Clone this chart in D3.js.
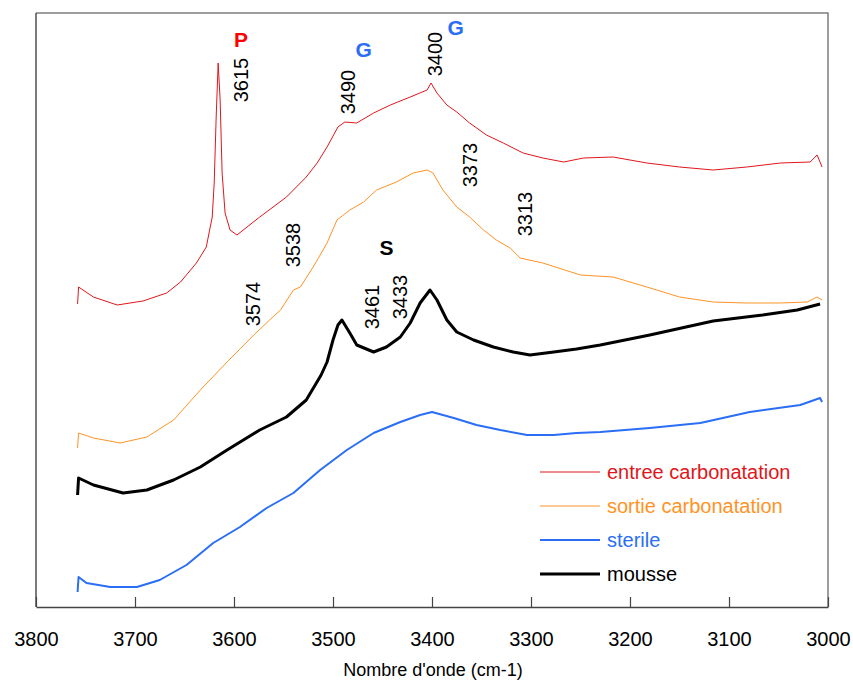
<!DOCTYPE html>
<html>
<head>
<meta charset="utf-8">
<script src="https://cdn.jsdelivr.net/npm/d3@7"></script>
<style>
  body { margin: 0; background: #fff; }
  svg { display: block; font-family: "Liberation Sans", Arial, sans-serif; }
</style>
</head>
<body>
<svg id="chart"></svg>
<script>
// wavenumber (cm-1), intensity (a.u.)
const entree = [
  [3758, 0.303], [3757, 0.320], [3742, 0.310], [3718, 0.302], [3692, 0.306],
  [3668, 0.314], [3654, 0.325], [3638, 0.344], [3628, 0.360], [3622, 0.390],
  [3620, 0.424], [3618, 0.490], [3616, 0.544], [3614, 0.507], [3612, 0.434],
  [3609, 0.394], [3604, 0.377], [3597, 0.372], [3574, 0.390], [3547, 0.410],
  [3527, 0.430], [3516, 0.444], [3506, 0.460], [3495, 0.480], [3488, 0.485],
  [3476, 0.484], [3459, 0.494], [3442, 0.502], [3422, 0.510], [3405, 0.517],
  [3401, 0.524], [3395, 0.514], [3385, 0.502], [3375, 0.495], [3362, 0.484],
  [3345, 0.472], [3328, 0.464], [3308, 0.454], [3288, 0.449], [3267, 0.445],
  [3247, 0.449], [3217, 0.450], [3183, 0.444], [3150, 0.440], [3116, 0.437],
  [3082, 0.440], [3048, 0.444], [3018, 0.445], [3011, 0.452], [3006, 0.440]
];
const sortie = [
  [3758, 0.159], [3757, 0.174], [3742, 0.169], [3715, 0.164], [3688, 0.170],
  [3661, 0.187], [3634, 0.217], [3607, 0.245], [3580, 0.272], [3564, 0.287],
  [3553, 0.297], [3540, 0.317], [3533, 0.320], [3520, 0.340], [3506, 0.364],
  [3496, 0.387], [3483, 0.397], [3469, 0.405], [3456, 0.417], [3436, 0.425],
  [3419, 0.434], [3405, 0.437], [3399, 0.434], [3389, 0.417], [3375, 0.400],
  [3362, 0.390], [3348, 0.377], [3335, 0.367], [3321, 0.359], [3311, 0.349],
  [3288, 0.344], [3250, 0.332], [3217, 0.330], [3183, 0.320], [3150, 0.310],
  [3116, 0.305], [3082, 0.304], [3048, 0.304], [3021, 0.305], [3011, 0.310],
  [3006, 0.307]
];
const sterile = [
  [3758, 0.015], [3757, 0.030], [3749, 0.024], [3725, 0.020], [3698, 0.020],
  [3675, 0.027], [3648, 0.042], [3621, 0.064], [3594, 0.080], [3567, 0.099],
  [3540, 0.114], [3513, 0.137], [3486, 0.157], [3459, 0.174], [3432, 0.185],
  [3412, 0.192], [3400, 0.195], [3378, 0.189], [3355, 0.182], [3331, 0.177],
  [3304, 0.172], [3277, 0.172], [3254, 0.174], [3230, 0.175], [3180, 0.179],
  [3129, 0.184], [3079, 0.195], [3028, 0.202], [3008, 0.209], [3006, 0.205]
];
const mousse = [
  [3758, 0.112], [3757, 0.129], [3742, 0.122], [3712, 0.114], [3688, 0.117],
  [3661, 0.127], [3634, 0.140], [3607, 0.157], [3574, 0.177], [3547, 0.190],
  [3527, 0.207], [3512, 0.232], [3506, 0.245], [3500, 0.267], [3495, 0.282],
  [3491, 0.287], [3483, 0.274], [3476, 0.262], [3459, 0.255], [3446, 0.260],
  [3432, 0.270], [3422, 0.284], [3412, 0.304], [3402, 0.317], [3395, 0.307],
  [3385, 0.287], [3375, 0.275], [3358, 0.267], [3338, 0.260], [3318, 0.255],
  [3301, 0.252], [3277, 0.255], [3254, 0.258], [3230, 0.262], [3180, 0.272],
  [3116, 0.286], [3066, 0.292], [3031, 0.297], [3008, 0.303]
];

const seriesNames = ["entree carbonatation", "sortie carbonatation", "sterile", "mousse"];
const seriesColors = ["#e0161b", "#ff9326", "#2a6ef5", "#000000"];
const seriesWidths = [1, 1, 2, 3];

const xTicks = [3800, 3700, 3600, 3500, 3400, 3300, 3200, 3100, 3000];

// band labels: text, baseline position (cm-1), centre (a.u.)
const bandLabels = [
  ["3615", 3586, 0.527], ["3490", 3478, 0.515], ["3400", 3390, 0.553],
  ["3373", 3355, 0.442], ["3538", 3533, 0.362], ["3313", 3299, 0.393],
  ["3574", 3574, 0.303], ["3461", 3454, 0.300], ["3433", 3425, 0.310]
];
// group letters: letter, colour, x (cm-1), y (a.u.)
const groupLetters = [
  ["P", "#ff0000", 3593, 0.560], ["G", "#2a6ef5", 3469, 0.550],
  ["G", "#2a6ef5", 3376, 0.572], ["S", "#000000", 3446, 0.352]
];

function main() {
  const width = 853, height = 682;
  const svg = d3.select("#chart").attr("width", width).attr("height", height);

  const x = d3.scaleLinear().domain([3800, 3000]).range([36, 828]);
  const y = d3.scaleLinear().domain([0, 0.594]).range([607, 13]);

  drawFrame(svg, x, y);
  drawSeries(svg, x, y);
  drawLabels(svg, x, y);
  drawLegend(svg);
}

function drawFrame(svg, x, y) {
  svg.append("path")
    .attr("d", `M${x(3800)},${y(0.594)}H${x(3000)}V${y(0)}`)
    .attr("fill", "none")
    .attr("stroke", "#7f7f7f")
    .attr("stroke-width", 1.5);

  svg.append("line")
    .attr("x1", x(3800)).attr("x2", x(3800))
    .attr("y1", y(0.594)).attr("y2", y(0))
    .attr("stroke", "#333")
    .attr("stroke-width", 1.3);

  const axis = svg.append("g")
    .attr("transform", `translate(0,${y(0)})`)
    .call(d3.axisBottom(x).tickValues(xTicks).tickFormat(d3.format("d"))
      .tickSizeInner(-10).tickSizeOuter(0).tickPadding(25));
  axis.select(".domain").attr("stroke", "#444").attr("stroke-width", 1.3);
  axis.selectAll(".tick line").attr("stroke", "#444").attr("stroke-width", 1.2);
  axis.selectAll(".tick text")
    .attr("font-size", 20)
    .attr("font-family", "Liberation Sans, Arial, sans-serif")
    .attr("fill", "#000");

  svg.append("text")
    .attr("x", 433)
    .attr("y", 676)
    .attr("text-anchor", "middle")
    .attr("font-size", 18)
    .text("Nombre d'onde (cm-1)");
}

function drawSeries(svg, x, y) {
  const line = d3.line().x(d => x(d[0])).y(d => y(d[1]));
  const data = [entree, sortie, sterile, mousse];
  svg.append("g")
    .attr("fill", "none")
    .attr("stroke-linejoin", "round")
    .selectAll("path")
    .data(data)
    .join("path")
    .attr("stroke", (d, i) => seriesColors[i])
    .attr("stroke-width", (d, i) => seriesWidths[i])
    .attr("d", line);
}

function drawLabels(svg, x, y) {
  svg.append("g")
    .selectAll("text")
    .data(bandLabels)
    .join("text")
    .attr("transform", d => `translate(${x(d[1])},${y(d[2])}) rotate(-90)`)
    .attr("text-anchor", "middle")
    .attr("font-size", 20)
    .text(d => d[0]);

  svg.append("g")
    .selectAll("text")
    .data(groupLetters)
    .join("text")
    .attr("x", d => x(d[2]))
    .attr("y", d => y(d[3]))
    .attr("text-anchor", "middle")
    .attr("font-size", 21)
    .attr("font-weight", "bold")
    .attr("fill", d => d[1])
    .text(d => d[0]);
}

function drawLegend(svg) {
  const row = svg.append("g")
    .attr("transform", "translate(540,472)")
    .selectAll("g")
    .data(seriesNames)
    .join("g")
    .attr("transform", (d, i) => `translate(0,${i * 34})`);

  row.append("line")
    .attr("x1", 0).attr("x2", 60)
    .attr("stroke", (d, i) => seriesColors[i])
    .attr("stroke-width", (d, i) => seriesWidths[i]);

  row.append("text")
    .attr("x", 67)
    .attr("y", 7)
    .attr("font-size", 20)
    .attr("fill", (d, i) => seriesColors[i])
    .text(d => d);
}

main();
</script>
</body>
</html>
